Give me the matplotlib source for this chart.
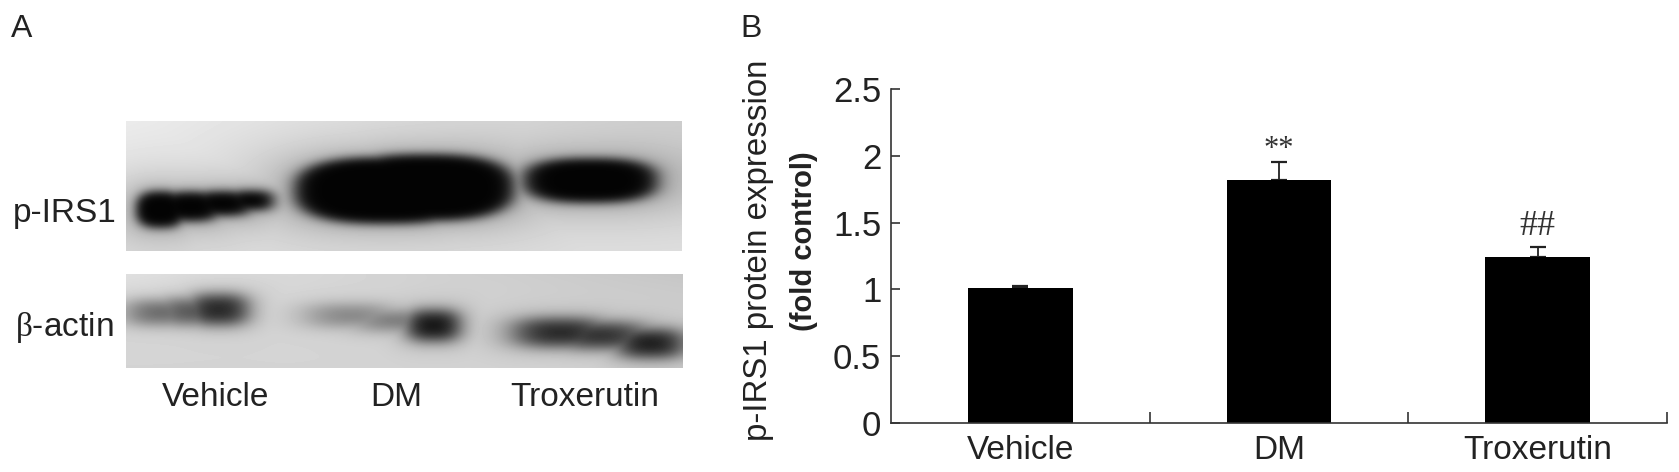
import numpy as np
import matplotlib
matplotlib.use("Agg")
import matplotlib.pyplot as plt

plt.rcParams['font.family'] = ['Liberation Sans', 'DejaVu Sans']
plt.rcParams['mathtext.fontset'] = 'custom'
plt.rcParams['mathtext.rm'] = 'Liberation Serif'
plt.rcParams['mathtext.it'] = 'Liberation Serif'

# ---- data ----
categories = ['Vehicle', 'DM', 'Troxerutin']
values = [1.01, 1.82, 1.245]
errors = [0.012, 0.135, 0.07]
marks = ['', '**', '##']
y_ticks = [0, 0.5, 1, 1.5, 2, 2.5]
y_tick_labels = ['0', '0.5', '1', '1.5', '2', '2.5']

# Blot bands: centre x, centre y, half width, half height, strength (reference pixels)
top_bands = [
    (160, 209, 24, 18, 1.0), (190, 206, 30, 14.5, 1.0), (222, 203, 30, 12, 1.0), (250, 200, 22, 9.5, 1.0),
    (385, 190, 90, 33, 1.0), (425, 187, 88, 33, 1.0),
    (590, 180, 66, 22, 1.0),
]
bottom_bands = [
    (160, 312, 30, 11, 0.50), (190, 311, 30, 12, 0.58), (218, 309, 27, 14, 0.82),
    (350, 315, 38, 10, 0.36), (395, 320, 35, 9, 0.42), (433, 325, 24, 14, 0.92),
    (560, 332, 42, 13, 0.82), (600, 335, 42, 12, 0.78), (650, 343, 30, 13, 0.88),
]


def smooth(a, sigma):
    n = int(3 * sigma) + 1
    k = np.exp(-0.5 * (np.arange(-n, n + 1) / sigma) ** 2)
    k /= k.sum()
    a = np.pad(a, n, mode='edge')
    a = np.apply_along_axis(lambda c: np.convolve(c, k, mode='same'), 0, a)
    a = np.apply_along_axis(lambda c: np.convolve(c, k, mode='same'), 1, a)
    return a[n:-n, n:-n]


def blot(x0, x1, y0, y1, bands, base, edge, halo, halo_gain):
    xs, ys = np.meshgrid(np.arange(x0, x1), np.arange(y0, y1))
    ink = np.zeros(xs.shape)
    shade = np.zeros(xs.shape)
    for cx, cy, rx, ry, s in bands:
        r = (np.abs((xs - cx) / rx) ** 2.6 + np.abs((ys - cy) / ry) ** 2.6) ** (1 / 2.6)
        d = (r - 1) * min(rx, ry)
        ink = np.maximum(ink, s / (1 + np.exp(d / edge)))
        shade = np.maximum(shade, s * np.exp(-np.clip(d, 0, None) / halo))
    ink = smooth(ink, 3.0)
    shade = smooth(shade, 4.0)
    u = (xs - x0) / (x1 - x0)
    v = (ys - y0) / (y1 - y0)
    bg = base + 12 * (1 - u) * (1 - v) - 14 * u * (1 - v) ** 2
    return bg * (1 - halo_gain * shade) * (1 - ink) + 3 * ink


fig = plt.figure(figsize=(16.79, 4.72), dpi=100, facecolor='white')
W, H = 1679, 472

# overlay in reference pixels for panel A and free text
ov = fig.add_axes([0, 0, 1, 1])
ov.set_xlim(0, W)
ov.set_ylim(H, 0)
ov.axis('off')
ov.imshow(blot(126, 682, 121, 251, top_bands, 224, 1.8, 18, 0.24), cmap='gray', vmin=0, vmax=255,
          extent=(126, 682, 251, 121), aspect='auto', interpolation='bilinear')
ov.imshow(blot(126, 683, 274, 368, bottom_bands, 212, 3.6, 10, 0.15), cmap='gray', vmin=0, vmax=255,
          extent=(126, 683, 368, 274), aspect='auto', interpolation='bilinear')
ov.set_xlim(0, W)
ov.set_ylim(H, 0)

tc = '#222222'
fs = 24
ov.text(11, 37, 'A', fontsize=23, color=tc, ha='left', va='baseline')
ov.text(740, 37, 'B', fontsize=23, color=tc, ha='left', va='baseline')
ov.text(13, 222, 'p-IRS1', fontsize=fs, color=tc, ha='left', va='baseline')
ov.text(15, 336, r'$\mathrm{\beta}$-actin', fontsize=fs, color=tc, ha='left', va='baseline')
for label, cx in zip(categories, [216, 396, 585]):
    ov.text(cx, 406, label, fontsize=fs, color=tc, ha='center', va='baseline')
ov.text(758, 250, 'p-IRS1 protein expression', fontsize=23.8, color=tc, rotation=90,
        ha='center', va='center')
ov.text(804, 241, '(fold control)', fontsize=21, color=tc, weight='bold', rotation=90,
        ha='center', va='center')

# panel B
ax = fig.add_axes([891 / W, 1 - 423 / H, (1667 - 891) / W, (423 - 89) / H])
ax.patch.set_alpha(0)
x = np.arange(len(categories))
ax.bar(x, values, width=0.405, color='black', zorder=2)
ax.errorbar(x, values, yerr=[[0] * 3, errors], fmt='none', ecolor='#222222', elinewidth=1.3,
            capsize=5.5, capthick=1.6, zorder=1)
ax.set_xlim(-0.5, 2.5)
ax.set_ylim(0, 2.5)
for s in ('top', 'right'):
    ax.spines[s].set_visible(False)
for s in ('left', 'bottom'):
    ax.spines[s].set_color('#333333')
    ax.spines[s].set_linewidth(1.2)
ax.set_yticks(y_ticks)
ax.set_yticklabels(y_tick_labels, fontsize=25, color=tc)
ax.tick_params(axis='y', direction='in', length=6.5, width=1.2, color='#333333', pad=7)
ax.set_xticks([0.5, 1.5, 2.5])
ax.set_xticklabels([])
ax.tick_params(axis='x', which='major', direction='in', length=8, width=1.2, color='#333333')
ax.set_xticks(x, minor=True)
ax.set_xticklabels(categories, minor=True, fontsize=fs, color=tc)
ax.tick_params(axis='x', which='minor', length=0, pad=8.5)
mark_size = {'**': 22, '##': 26}
mark_offset = {'**': -1.4, '##': 3}
for xi, v, e, m in zip(x, values, errors, marks):
    if m:
        ax.annotate(m, (xi, v + e), xytext=(0, mark_offset[m]), textcoords='offset points',
                    ha='center', va='bottom', fontsize=mark_size[m], color='#333333',
                    family='Liberation Serif')

fig.savefig('out.png', dpi=100)
